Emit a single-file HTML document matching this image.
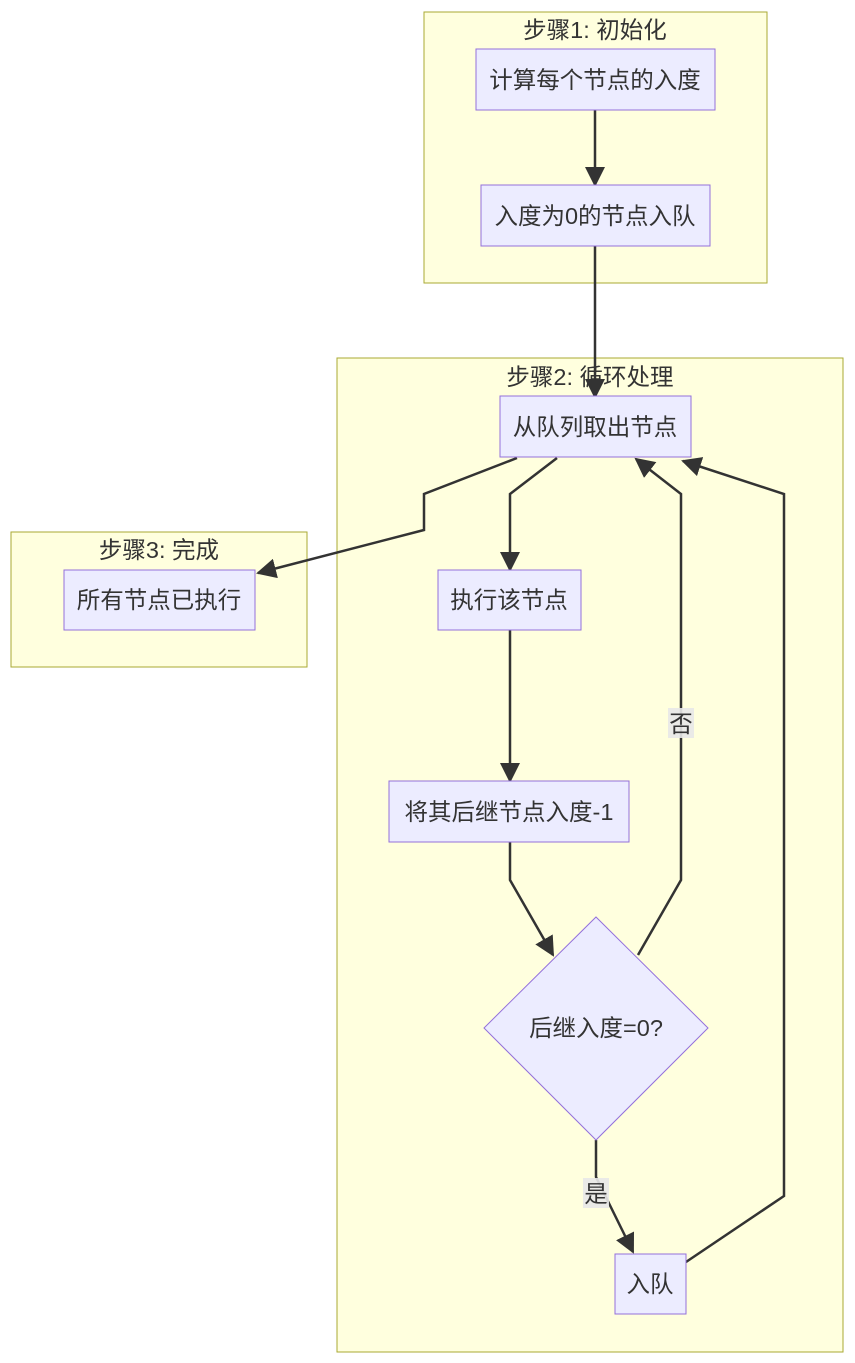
<!DOCTYPE html>
<html><head><meta charset="utf-8"><style>
html,body{margin:0;padding:0;background:#fff;}
svg{display:block;}
text{font-family:"Liberation Sans","Noto Sans CJK SC",sans-serif;font-size:23.5px;fill:#333;}
</style></head><body>
<svg width="855" height="1363" viewBox="0 0 855 1363" xmlns="http://www.w3.org/2000/svg">
<defs>
<marker id="b" viewBox="0 0 10 10" refX="9" refY="5" markerWidth="20" markerHeight="20" markerUnits="userSpaceOnUse" orient="auto"><path d="M0,0L10,5L0,10z" fill="#333"/></marker>
</defs>
<g fill="#ffffde" stroke="#aaaa33" stroke-width="1">
<rect x="424" y="12" width="343" height="271"/>
<rect x="337" y="358" width="506" height="994"/>
<rect x="11" y="532" width="296" height="135"/>
</g>
<g text-anchor="middle">
<text x="595" y="38">步骤1: 初始化</text>
<text x="590" y="385">步骤2: 循环处理</text>
<text x="159" y="558">步骤3: 完成</text>
</g>
<g fill="none" stroke="#333" stroke-width="2.5" marker-end="url(#b)">
<path d="M595,110V185"/>
<path d="M595,246V397"/>
<path d="M517,458L424,494V530L258,573"/>
<path d="M557,458L510,494V570"/>
<path d="M510,630V781"/>
<path d="M510,842V880L553,955"/>
<path d="M638,955L681,880V494L636,459"/>
<path d="M596,1140V1177L633,1252"/>
<path d="M686,1262L784,1196V494L683,461"/>
</g>
<g fill="#ececff" stroke="#9370db" stroke-width="1">
<rect x="476" y="49" width="239" height="61"/>
<rect x="481" y="185" width="229" height="61"/>
<rect x="500" y="396" width="191" height="61"/>
<rect x="64" y="570" width="191" height="60"/>
<rect x="438" y="570" width="143" height="60"/>
<rect x="389" y="781" width="240" height="61"/>
<path d="M596,917L708,1028L596,1140L484,1028Z"/>
<rect x="615" y="1254" width="71" height="60"/>
</g>
<g text-anchor="middle">
<text x="595" y="88">计算每个节点的入度</text>
<text x="595" y="224">入度为0的节点入队</text>
<text x="595" y="435">从队列取出节点</text>
<text x="159" y="608">所有节点已执行</text>
<text x="509" y="608">执行该节点</text>
<text x="509" y="820">将其后继节点入度-1</text>
<text x="596" y="1036">后继入度=0?</text>
<text x="650" y="1292">入队</text>
</g>
<rect x="668" y="708" width="26" height="30" fill="#e8e8e8" opacity="0.9"/>
<text x="681" y="732" text-anchor="middle">否</text>
<rect x="583" y="1178" width="26" height="30" fill="#e8e8e8" opacity="0.9"/>
<text x="596" y="1202" text-anchor="middle">是</text>
</svg>
</body></html>
